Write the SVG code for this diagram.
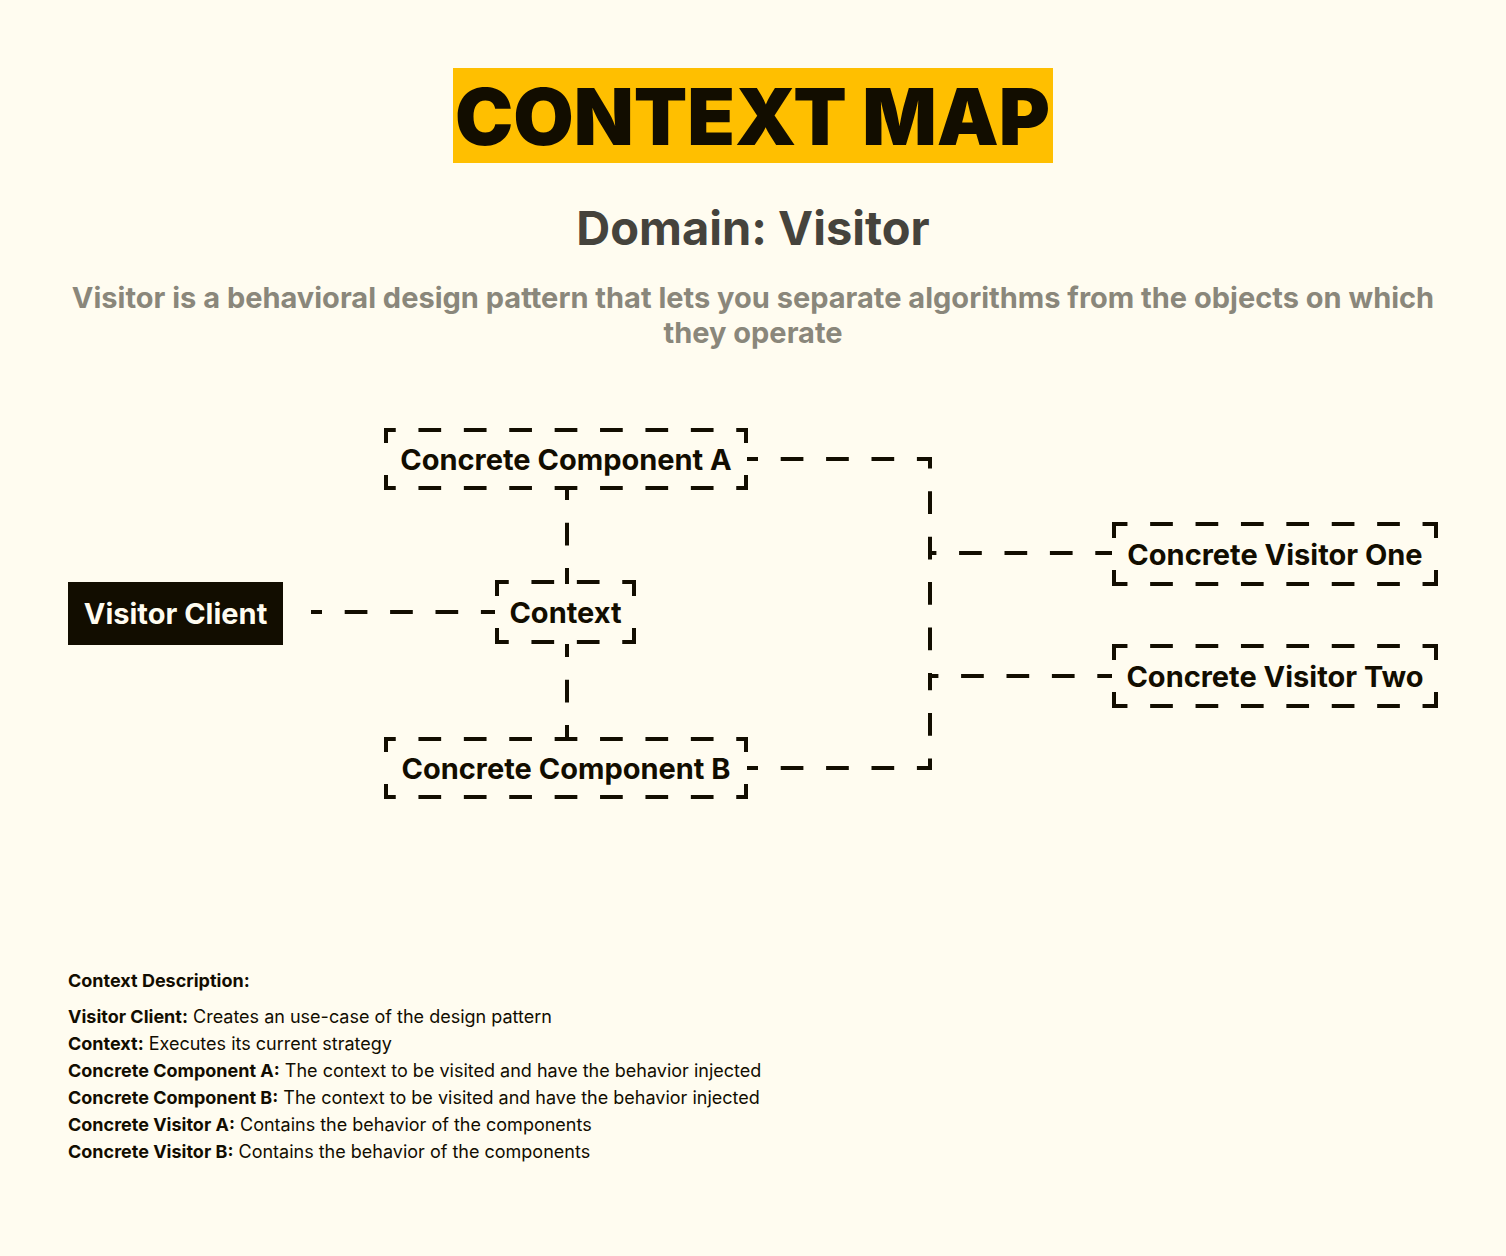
<svg xmlns="http://www.w3.org/2000/svg" width="1506" height="1256" viewBox="0 0 1506 1256">
<style>
text { font-family: Inter, "Liberation Sans", sans-serif; fill: #120D00; }
.title { font-size: 78px; font-weight: 900; }
.domain { font-size: 47px; font-weight: 700; fill: #45433C; }
.sub { font-size: 29px; font-weight: 700; fill: #8A877B; }
.lbl { font-size: 29px; font-weight: 700; text-anchor: middle; }
.lbl-w { fill: #FFFCF0; }
.desc { font-size: 18px; }
.b { font-weight: 700; }
.eh { fill: none; stroke: #120D00; stroke-width: 4; stroke-linecap: square; stroke-dasharray: 18.7 26.7; }
.ev { fill: none; stroke: #120D00; stroke-width: 4; stroke-linecap: square; }
.conn path { fill: none; stroke: #120D00; stroke-width: 4; stroke-dasharray: 22.7 22.7; }
</style>
<rect width="1506" height="1256" fill="#FFFCF0"/>

<g id="title">
  <rect x="453" y="68" width="600" height="95" fill="#FFBF00"/>
  <text class="title" x="455" y="145" textLength="595" lengthAdjust="spacingAndGlyphs">CONTEXT MAP</text>
</g>
<text class="domain" x="753" y="245" text-anchor="middle">Domain: Visitor</text>
<text class="sub" x="753" y="308" text-anchor="middle">Visitor is a behavioral design pattern that lets you separate algorithms from the objects on which</text>
<text class="sub" x="753" y="343" text-anchor="middle">they operate</text>

<g class="conn" id="connectors">
  <path d="M311 612 H495" style="stroke-dashoffset:11.7"/>
  <path d="M567 490 V584" style="stroke-dashoffset:12.7"/>
  <path d="M567 644 V739" style="stroke-dashoffset:9.7"/>
  <path d="M747 459 H930 V553 H1112" style="stroke-dashoffset:11.7"/>
  <path d="M747 768 H930 V676 H1112" style="stroke-dashoffset:11.7"/>
  <path d="M930 553 V676" style="stroke-dashoffset:16.3"/>
</g>

<g id="visitor-client">
  <rect x="68" y="582" width="215" height="63" fill="#120D00"/>
  <text class="lbl lbl-w" x="175.5" y="624">Visitor Client</text>
</g>

<g id="context">
  <path class="eh" d="M497 582 h137 M497 642 h137" style="stroke-dashoffset:8.95"/>
  <path class="ev" d="M497 582 v60 M634 582 v60" style="stroke-dasharray:12 36"/>
  <text class="lbl" x="565.5" y="622.5">Context</text>
</g>

<g id="concrete-component-a">
  <path class="eh" d="M386 430 h360 M386 488 h360" style="stroke-dashoffset:10.95"/>
  <path class="ev" d="M386 430 v58 M746 430 v58" style="stroke-dasharray:11 36"/>
  <text class="lbl" x="566" y="470">Concrete Component A</text>
</g>

<g id="concrete-component-b">
  <path class="eh" d="M386 739 h360 M386 797 h360" style="stroke-dashoffset:10.95"/>
  <path class="ev" d="M386 739 v58 M746 739 v58" style="stroke-dasharray:11 36"/>
  <text class="lbl" x="566" y="779">Concrete Component B</text>
</g>

<g id="concrete-visitor-one">
  <path class="eh" d="M1114 524 h322 M1114 584 h322" style="stroke-dashoffset:7.25"/>
  <path class="ev" d="M1114 524 v60 M1436 524 v60" style="stroke-dasharray:12 36"/>
  <text class="lbl" x="1275" y="564.5">Concrete Visitor One</text>
</g>

<g id="concrete-visitor-two">
  <path class="eh" d="M1114 646 h322 M1114 706 h322" style="stroke-dashoffset:7.25"/>
  <path class="ev" d="M1114 646 v60 M1436 646 v60" style="stroke-dasharray:12 36"/>
  <text class="lbl" x="1275" y="686.5">Concrete Visitor Two</text>
</g>

<g id="description">
  <text class="desc b" x="68" y="987">Context Description:</text>
  <text class="desc" x="68" y="1023"><tspan class="b">Visitor Client:</tspan> Creates an use-case of the design pattern</text>
  <text class="desc" x="68" y="1050"><tspan class="b">Context:</tspan> Executes its current strategy</text>
  <text class="desc" x="68" y="1077"><tspan class="b">Concrete Component A:</tspan> The context to be visited and have the behavior injected</text>
  <text class="desc" x="68" y="1104"><tspan class="b">Concrete Component B:</tspan> The context to be visited and have the behavior injected</text>
  <text class="desc" x="68" y="1131"><tspan class="b">Concrete Visitor A:</tspan> Contains the behavior of the components</text>
  <text class="desc" x="68" y="1158"><tspan class="b">Concrete Visitor B:</tspan> Contains the behavior of the components</text>
</g>
</svg>
